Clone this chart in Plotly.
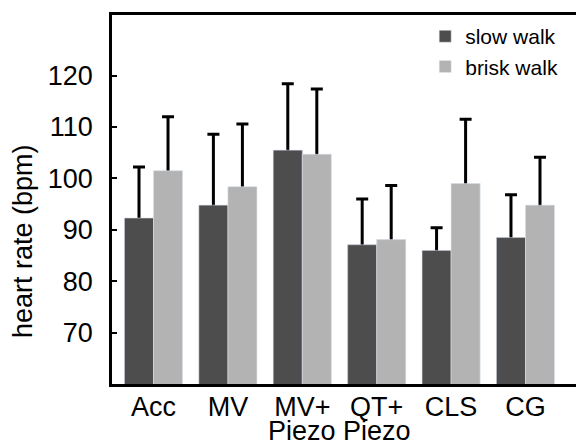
import plotly.graph_objects as go

categories = ["Acc", "MV", "MV+ Piezo", "QT+ Piezo", "CLS", "CG"]
tick_line1 = ["Acc", "MV", "MV+", "QT+", "CLS", "CG"]
tick_line2 = ["", "", "Piezo", "Piezo", "", ""]

slow_walk = [92.3, 94.8, 105.5, 87.1, 86.0, 88.5]
slow_err = [9.9, 13.8, 12.9, 8.9, 4.4, 8.3]
brisk_walk = [101.5, 98.4, 104.7, 88.1, 99.0, 94.8]
brisk_err = [10.5, 12.2, 12.7, 10.5, 12.5, 9.3]

y_ticks = [70, 80, 90, 100, 110, 120]
y_title = "heart rate (bpm)"

DARK = "#4d4d4d"
LIGHT = "#b3b3b3"
FONT = "Liberation Sans, Arial, Helvetica, sans-serif"
FS = 27

fig = go.Figure()

err_style = dict(type="data", symmetric=False, color="black", thickness=3, width=6)

# bars with error bars (lower cap tucked slightly inside bar top)
fig.add_trace(go.Bar(
    x=categories, y=slow_walk, name="slow walk", marker_color=DARK,
    offsetgroup="slow", showlegend=True,
    error_y=dict(array=slow_err, arrayminus=[0.6] * len(slow_err), **err_style),
))
fig.add_trace(go.Bar(
    x=categories, y=brisk_walk, name="brisk walk", marker_color=LIGHT,
    offsetgroup="brisk", showlegend=True,
    error_y=dict(array=brisk_err, arrayminus=[0.6] * len(brisk_err), **err_style),
))
# overlay bars (hide the lower cap of each error bar)
fig.add_trace(go.Bar(
    x=categories, y=slow_walk, marker_color=DARK, offsetgroup="slow",
    showlegend=False, hoverinfo="skip",
))
fig.add_trace(go.Bar(
    x=categories, y=brisk_walk, marker_color=LIGHT, offsetgroup="brisk",
    showlegend=False, hoverinfo="skip",
))

annotations = []
for cat, t2 in zip(categories, tick_line2):
    if t2:
        annotations.append(dict(
            x=cat, xref="x", y=-0.128, yref="paper", yanchor="middle",
            text=t2, showarrow=False, font=dict(family=FONT, size=FS, color="black"),
        ))
annotations.append(dict(
    x=-0.192, xref="paper", y=0.387, yref="paper", xanchor="center", yanchor="middle",
    text=y_title, textangle=-90, showarrow=False,
    font=dict(family=FONT, size=FS, color="black"),
))

fig.update_layout(
    width=576, height=447,
    margin=dict(l=112, r=0, t=15, b=63, autoexpand=False),
    paper_bgcolor="white", plot_bgcolor="white",
    barmode="group", bargap=0.22, bargroupgap=0,
    font=dict(family=FONT, size=FS, color="black"),
    legend=dict(
        x=0.675, y=0.997, xanchor="left", yanchor="top",
        font=dict(family=FONT, size=21, color="black"),
        bgcolor="rgba(0,0,0,0)", tracegroupgap=0,
    ),
    annotations=annotations,
    xaxis=dict(
        type="category", range=[-0.558, 5.679], automargin=False,
        tickmode="array", tickvals=categories, ticktext=tick_line1,
        showline=True, linecolor="black", linewidth=2.5, mirror=True,
        ticks="", showgrid=False, zeroline=False, ticklabelstandoff=-3,
        tickfont=dict(family=FONT, size=FS, color="black"),
    ),
    yaxis=dict(
        range=[60, 131.8], tickvals=y_ticks, automargin=False,
        showline=True, linecolor="black", linewidth=2.5, mirror=True,
        ticks="inside", ticklen=5, tickwidth=2, tickcolor="black",
        ticklabelstandoff=11,
        showgrid=False, zeroline=False,
        tickfont=dict(family=FONT, size=FS, color="black"),
    ),
)

fig.write_html(
    "out.html",
    config={"displayModeBar": False},
    post_script="document.body.style.margin='0';document.body.style.overflow='hidden';",
)
